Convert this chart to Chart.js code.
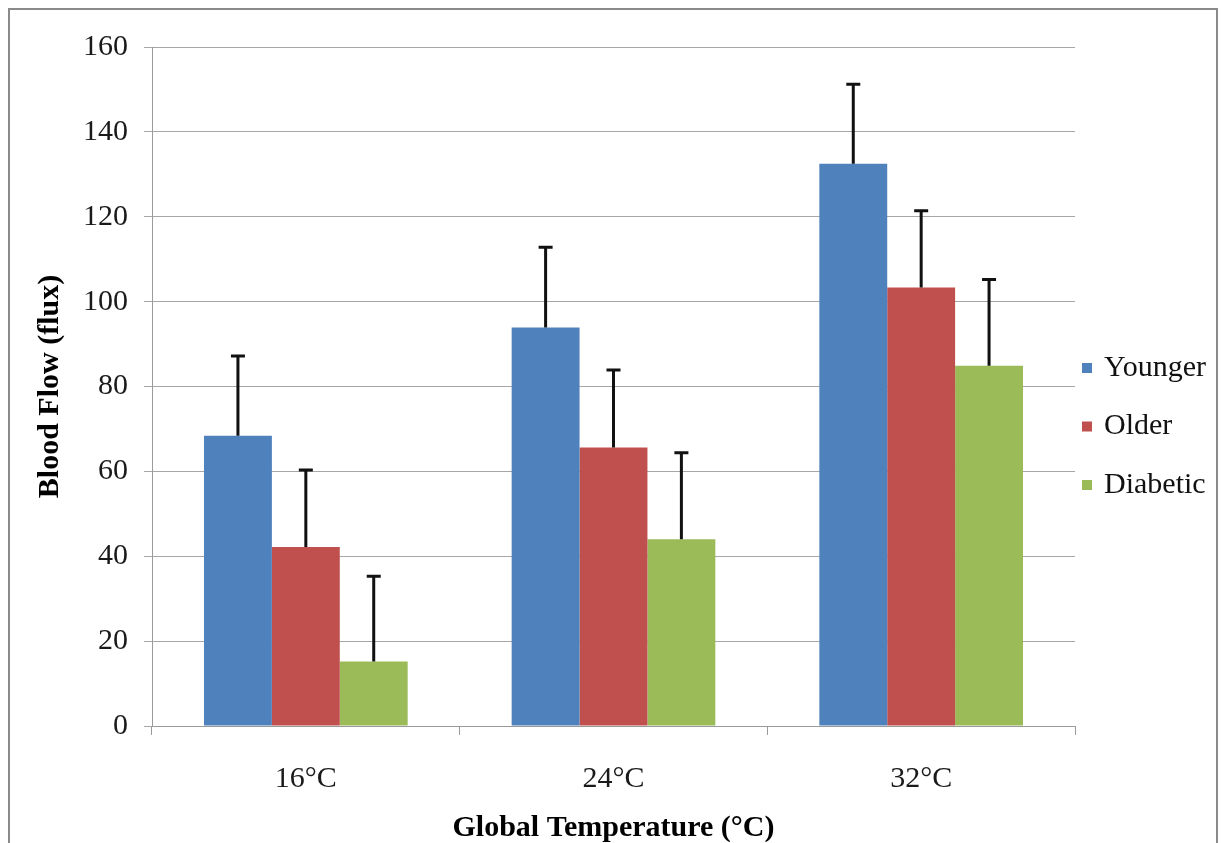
<!DOCTYPE html>
<html>
<head>
<meta charset="utf-8">
<script src="https://cdn.jsdelivr.net/npm/chart.js@4.4.1/dist/chart.umd.min.js"></script>
<style>
    html, body { margin: 0; padding: 0; background: #ffffff; }
    #wrap { width: 1222px; height: 843px; position: relative; }
</style>
</head>
<body>
<div id="wrap"><canvas id="flowChart" width="1222" height="843"></canvas></div>
<script>
const temperatures = ['16°C', '24°C', '32°C'];
const seriesNames = ['Younger', 'Older', 'Diabetic'];
const younger = [68.4, 93.9, 132.5];
const older = [42.2, 65.6, 103.3];
const diabetic = [15.2, 44.0, 84.9];
const youngerErr = [18.8, 18.9, 18.7];
const olderErr = [18.1, 18.3, 18.1];
const diabeticErr = [20.1, 20.4, 20.3];
const yTicks = [0, 20, 40, 60, 80, 100, 120, 140, 160];

const seriesColors = ['#4F81BD', '#C0504D', '#9BBB59'];
const serif = "'Liberation Serif', 'Times New Roman', serif";

// upper error bars with caps
const errorBars = {
    id: 'errorBars',
    afterDatasetsDraw(chart) {
        const ctx = chart.ctx;
        const yScale = chart.scales.y;
        ctx.save();
        ctx.strokeStyle = '#111111';
        ctx.lineWidth = 3;
        chart.data.datasets.forEach((ds, i) => {
            const meta = chart.getDatasetMeta(i);
            meta.data.forEach((bar, j) => {
                const top = yScale.getPixelForValue(ds.data[j] + ds.errors[j]);
                ctx.beginPath();
                ctx.moveTo(bar.x, bar.y);
                ctx.lineTo(bar.x, top);
                ctx.moveTo(bar.x - 7, top);
                ctx.lineTo(bar.x + 7, top);
                ctx.stroke();
            });
        });
        ctx.restore();
    }
};

// frame + legend on the right
const frameAndLegend = {
    id: 'frameAndLegend',
    afterDraw(chart) {
        const ctx = chart.ctx;
        ctx.save();
        ctx.strokeStyle = '#8a8a8a';
        ctx.lineWidth = 2;
        ctx.strokeRect(9, 9, 1208, 860);

        const area = chart.chartArea;
        ctx.font = '30px ' + serif;
        ctx.textBaseline = 'middle';
        ctx.fillStyle = '#111111';
        chart.data.datasets.forEach((ds, i) => {
            const cy = 368 + i * 58.5;
            ctx.fillStyle = ds.backgroundColor;
            ctx.fillRect(area.right + 7, cy - 5, 10, 10);
            ctx.fillStyle = '#111111';
            ctx.fillText(ds.label, area.right + 29, cy);
        });
        ctx.restore();
    }
};

const ctx = document.getElementById('flowChart');

new Chart(ctx, {
    type: 'bar',
    data: {
        labels: temperatures,
        datasets: [
            { label: seriesNames[0], data: younger, errors: youngerErr, backgroundColor: seriesColors[0] },
            { label: seriesNames[1], data: older, errors: olderErr, backgroundColor: seriesColors[1] },
            { label: seriesNames[2], data: diabetic, errors: diabeticErr, backgroundColor: seriesColors[2] }
        ]
    },
    options: {
        responsive: false,
        animation: false,
        devicePixelRatio: 1,
        layout: {
            padding: { left: 0, right: 147, top: 47, bottom: 0 }
        },
        datasets: {
            bar: {
                categoryPercentage: 0.662,
                barPercentage: 1.0,
                borderWidth: 0
            }
        },
        scales: {
            x: {
                grid: {
                    display: true,
                    offset: true,
                    drawOnChartArea: false,
                    drawTicks: true,
                    tickLength: 9,
                    color: '#9a9a9a'
                },
                border: { color: '#9a9a9a', width: 1 },
                ticks: {
                    color: '#1a1a1a',
                    padding: 26,
                    font: { family: serif, size: 30 }
                },
                title: {
                    display: true,
                    text: 'Global Temperature (°C)',
                    color: '#000000',
                    padding: 0,
                    font: { family: serif, size: 30, weight: 'bold', lineHeight: 1 }
                },
                afterFit(scale) { scale.height = 117; }
            },
            y: {
                min: 0,
                max: 160,
                afterBuildTicks(scale) {
                    scale.ticks = yTicks.map(v => ({ value: v }));
                },
                grid: {
                    color: '#a6a6a6',
                    drawTicks: true,
                    tickLength: 8
                },
                border: { color: '#9a9a9a', width: 1 },
                ticks: {
                    color: '#1a1a1a',
                    padding: 16,
                    font: { family: serif, size: 30 }
                },
                title: {
                    display: true,
                    text: 'Blood Flow (flux)',
                    color: '#000000',
                    padding: { top: 35, bottom: 0 },
                    font: { family: serif, size: 30, weight: 'bold', lineHeight: 1 }
                },
                afterFit(scale) { scale.width = 152; }
            }
        },
        plugins: {
            legend: { display: false },
            tooltip: { enabled: false }
        }
    },
    plugins: [errorBars, frameAndLegend]
});
</script>
</body>
</html>
